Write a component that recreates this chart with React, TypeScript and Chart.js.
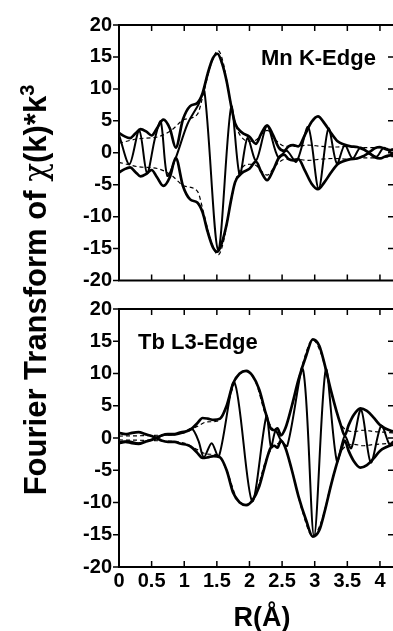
import React, { useEffect, useRef } from "react";
import { Chart, registerables } from "chart.js";
Chart.register(...registerables);

const FONT = '"Liberation Sans", Arial, Helvetica, sans-serif';

// ---- tick values ----
const X_TICKS = [0, 0.5, 1, 1.5, 2, 2.5, 3, 3.5, 4];
const Y_TICKS = [-20, -15, -10, -5, 0, 5, 10, 15, 20];

// ---- Mn K-edge: |FT| (magnitude) ----
const R_MN_MAG = [0, 0.08, 0.17, 0.25, 0.33, 0.42, 0.5, 0.58, 0.68, 0.78, 0.87, 0.98, 1.09, 1.2, 1.28, 1.36, 1.44, 1.51, 1.58, 1.65, 1.72, 1.78, 1.88, 2.0, 2.1, 2.18, 2.27, 2.36, 2.45, 2.53, 2.6, 2.67, 2.75, 2.85, 2.95, 3.05, 3.15, 3.25, 3.35, 3.45, 3.55, 3.65, 3.75, 3.83, 3.92, 4.0, 4.1, 4.2];
const MN_MAG = [3.1, 2.6, 2.3, 3.0, 3.7, 3.3, 2.7, 3.8, 5.2, 3.8, 0.8, 5.2, 7.3, 7.8, 9.3, 12.4, 14.8, 15.5, 14.0, 11.2, 7.3, 4.6, 3.2, 2.5, 1.4, 3.0, 4.3, 2.8, 0.8, 0.3, 1.0, 1.2, 1.0, 2.8, 4.8, 5.7, 4.6, 3.1, 1.8, 1.3, 1.0, 0.9, 0.5, 0.1, 0.7, 0.9, 0.5, 0.4];
// ---- Mn K-edge: fit magnitude ----
const R_MN_FIT = [0, 0.3, 0.6, 0.8, 1.0, 1.2, 1.3, 1.4, 1.52, 1.6, 1.7, 1.8, 1.9, 2.0, 2.1, 2.27, 2.4, 2.55, 2.7, 2.9, 3.1, 3.3, 3.5, 3.7, 3.9, 4.2];
const MN_FIT = [1.5, 2.2, 2.5, 3.5, 5.2, 6.0, 9.5, 13.5, 16.0, 14.0, 8.5, 4.0, 2.2, 1.8, 2.0, 3.5, 2.0, 1.0, 1.0, 1.2, 1.0, 0.9, 1.0, 0.8, 0.8, 0.6];
// ---- Mn K-edge: real part ----
const R_MN_RE = [0, 0.16, 0.31, 0.43, 0.55, 0.64, 0.74, 0.87, 1.05, 1.22, 1.31, 1.52, 1.72, 1.85, 1.97, 2.1, 2.27, 2.44, 2.57, 2.72, 2.9, 3.06, 3.21, 3.34, 3.46, 3.58, 3.7, 3.83, 3.95, 4.06, 4.2];
const MN_RE = [2.8, -1.8, 3.5, -3.2, 2.2, 4.9, -3.6, -0.8, 4.5, 7.6, 9.6, -15.2, 7.2, -3.5, 2.3, -1.2, 4.2, -0.7, 0.3, -1.4, 4.0, -5.6, 3.8, -1.7, 1.2, -0.9, 0.8, 0.0, -0.6, 0.8, -0.3];

// ---- Tb L3-edge: |FT| ----
const R_TB_MAG = [0, 0.1, 0.2, 0.3, 0.4, 0.5, 0.57, 0.65, 0.75, 0.85, 0.95, 1.05, 1.12, 1.2, 1.28, 1.36, 1.45, 1.55, 1.65, 1.75, 1.85, 1.95, 2.05, 2.15, 2.25, 2.32, 2.38, 2.43, 2.48, 2.55, 2.65, 2.75, 2.87, 2.97, 3.07, 3.15, 3.25, 3.33, 3.4, 3.46, 3.52, 3.6, 3.7, 3.8, 3.9, 4.0, 4.1, 4.2];
const TB_MAG = [0.8, 0.6, 0.8, 0.9, 0.6, 0.3, 0.05, 0.4, 0.6, 0.6, 0.9, 1.1, 1.5, 2.3, 3.1, 3.0, 2.8, 3.0, 5.0, 8.5, 10.0, 10.4, 9.6, 7.5, 3.8, 1.6, 1.2, 1.5, 0.4, 1.5, 5.0, 9.0, 12.8, 15.3, 14.3, 11.5, 7.3, 4.3, 2.0, 0.4, 2.0, 3.6, 4.6, 4.2, 3.2, 2.0, 1.4, 1.0];
// ---- Tb L3-edge: fit magnitude ----
const R_TB_FIT = [0, 0.5, 1.0, 1.2, 1.35, 1.5, 1.65, 1.8, 1.95, 2.1, 2.25, 2.4, 2.5, 2.65, 2.8, 2.97, 3.1, 3.25, 3.4, 3.5, 3.6, 3.75, 3.9, 4.05, 4.2];
const TB_FIT = [0.3, 0.4, 0.8, 1.8, 2.5, 2.6, 5.0, 9.2, 10.3, 8.5, 3.5, 1.0, 0.8, 5.0, 11.0, 15.2, 13.0, 7.2, 2.2, 1.2, 1.0, 1.2, 1.0, 0.9, 0.8];
// ---- Tb L3-edge: real part ----
const R_TB_RE = [0, 0.15, 0.3, 0.45, 0.57, 0.7, 0.85, 1.0, 1.12, 1.22, 1.3, 1.42, 1.53, 1.77, 2.04, 2.26, 2.33, 2.4, 2.48, 2.58, 2.82, 2.99, 3.17, 3.34, 3.46, 3.56, 3.71, 3.86, 4.02, 4.15, 4.2];
const TB_RE = [-0.6, -0.5, -0.8, -0.4, 0, 0.5, 0.5, 0.9, 1.4, -0.5, -3.0, -0.8, -2.9, 8.6, -9.8, 3.4, -1.4, 1.1, -0.3, -1.2, 10.6, -15.2, 10.6, -3.6, 0.3, -1.6, 4.4, -3.8, 1.9, -1.1, -0.5];

const pts = (xs: number[], ys: number[], sign = 1) => xs.map((x, i) => ({ x, y: sign * ys[i] }));

function makeDatasets(rMag: number[], mag: number[], rFit: number[], fit: number[], rRe: number[], re: number[]) {
  const dashed = { borderColor: "#000", borderWidth: 1.2, borderDash: [4, 3], pointRadius: 0, cubicInterpolationMode: "monotone", fill: false };
  const env = { borderColor: "#000", borderWidth: 2.7, pointRadius: 0, cubicInterpolationMode: "monotone", fill: false };
  return [
    { ...dashed, data: pts(rFit, fit) },
    { ...dashed, data: pts(rFit, fit, -1) },
    { data: pts(rRe, re), borderColor: "#000", borderWidth: 2, pointRadius: 0, tension: 0.3, fill: false },
    { ...env, data: pts(rMag, mag) },
    { ...env, data: pts(rMag, mag, -1) },
  ];
}

function framePlugin(label: string, lx: number, ly: number) {
  return {
    id: "frame",
    afterDraw(chart: any) {
      const { ctx, chartArea } = chart;
      const { left, right, top, bottom } = chartArea;
      const xs = chart.scales.x;
      const ys = chart.scales.y;
      ctx.save();
      ctx.strokeStyle = "#000";
      ctx.lineWidth = 2;
      ctx.beginPath();
      ctx.moveTo(right + 2, top);
      ctx.lineTo(left, top);
      ctx.lineTo(left, bottom);
      ctx.lineTo(right + 2, bottom);
      ctx.stroke();
      ctx.lineWidth = 1.5;
      ctx.beginPath();
      X_TICKS.forEach((v) => {
        const px = xs.getPixelForValue(v);
        if (v > 0) {
          ctx.moveTo(px, top);
          ctx.lineTo(px, top + 6);
          ctx.moveTo(px, bottom);
          ctx.lineTo(px, bottom - 6);
        }
      });
      Y_TICKS.forEach((v) => {
        const py = ys.getPixelForValue(v);
        ctx.moveTo(left - 6, py);
        ctx.lineTo(left, py);
        if (v > -20 && v < 20) {
          ctx.moveTo(right - 5, py);
          ctx.lineTo(right + 1, py);
        }
      });
      ctx.stroke();
      ctx.fillStyle = "#000";
      ctx.font = `bold 22px ${FONT}`;
      ctx.textBaseline = "alphabetic";
      ctx.textAlign = "left";
      ctx.fillText(label, lx, ly);
      ctx.restore();
    },
  };
}

function Panel(props: {
  top: number; height: number; padTop: number; padBottom: number; showX: boolean; xHeight: number;
  datasets: any[]; label: string; lx: number; ly: number;
}) {
  const ref = useRef<HTMLCanvasElement | null>(null);
  useEffect(() => {
    if (!ref.current) return;
    const tickFont = { family: FONT, size: 20, weight: "bold" as const };
    const chart = new Chart(ref.current, {
      type: "line",
      data: { datasets: props.datasets },
      options: {
        animation: false,
        responsive: false,
        maintainAspectRatio: false,
        events: [],
        plugins: { legend: { display: false }, tooltip: { enabled: false } },
        layout: { padding: { top: props.padTop, bottom: props.padBottom, left: 0, right: 0 } },
        scales: {
          x: {
            type: "linear",
            min: 0,
            max: 4.2,
            display: props.showX,
            ticks: {
              stepSize: 0.5,
              includeBounds: false,
              autoSkip: false,
              maxRotation: 0,
              minRotation: 0,
              padding: 2,
              color: "#000",
              font: tickFont,
              callback: (v: any) => String(Math.round(Number(v) * 10) / 10),
            },
            grid: { display: false, drawTicks: false },
            border: { display: false },
            afterFit: (s: any) => { s.height = props.xHeight; },
          },
          y: {
            type: "linear",
            min: -20,
            max: 20,
            ticks: { stepSize: 5, padding: 7, color: "#000", font: tickFont },
            grid: { display: false, drawTicks: false },
            border: { display: false },
            afterFit: (s: any) => { s.width = 119; },
          },
        },
      } as any,
      plugins: [framePlugin(props.label, props.lx, props.ly)],
    });
    return () => chart.destroy();
  }, []);
  return (
    <canvas
      ref={ref}
      width={393}
      height={props.height}
      style={{ position: "absolute", left: 0, top: props.top, width: 393, height: props.height, display: "block" }}
    />
  );
}

export default function App() {
  const mnData = makeDatasets(R_MN_MAG, MN_MAG, R_MN_FIT, MN_FIT, R_MN_RE, MN_RE);
  const tbData = makeDatasets(R_TB_MAG, TB_MAG, R_TB_FIT, TB_FIT, R_TB_RE, TB_RE);
  return (
    <div style={{ position: "absolute", left: 0, top: 0, width: 393, height: 631, overflow: "hidden", background: "#fff", fontFamily: FONT }}>
      <Panel top={0} height={300} padTop={25} padBottom={19.5} showX={false} xHeight={0}
        datasets={mnData} label="Mn K-Edge" lx={261} ly={65} />
      <Panel top={290} height={341} padTop={19} padBottom={0} showX={true} xHeight={64}
        datasets={tbData} label="Tb L3-Edge" lx={138} ly={59} />
      <div
        style={{
          position: "absolute",
          left: 35 - 230,
          top: 290 - 20,
          width: 460,
          height: 40,
          lineHeight: "40px",
          fontSize: 31,
          fontWeight: "bold",
          textAlign: "center",
          whiteSpace: "nowrap",
          transform: "rotate(-90deg)",
          color: "#000",
        }}
      >
        Fourier Transform of <span style={{ fontFamily: '"DejaVu Serif", "Liberation Serif", serif', fontWeight: "normal" }}>χ</span>(k)*k<span style={{ fontSize: 20, position: "relative", top: -12 }}>3</span>
      </div>
      <div
        style={{
          position: "absolute",
          left: 162,
          top: 604,
          width: 200,
          lineHeight: "27px",
          fontSize: 27,
          fontWeight: "bold",
          textAlign: "center",
          color: "#000",
        }}
      >
        R(Å)
      </div>
    </div>
  );
}
